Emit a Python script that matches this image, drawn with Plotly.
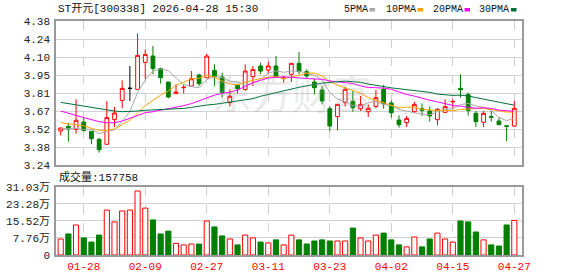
import plotly.graph_objects as go
import pandas as pd

# ---------------- data ----------------
dates = ["01-23","01-26","01-27","01-28","01-29","01-30","02-02","02-03","02-04","02-05",
         "02-06","02-09","02-10","02-11","02-12","02-13","02-24","02-25","02-26","02-27",
         "03-02","03-03","03-04","03-05","03-06","03-09","03-10","03-11","03-12","03-13",
         "03-16","03-17","03-18","03-19","03-20","03-23","03-24","03-25","03-26","03-27",
         "03-30","03-31","04-01","04-02","04-03","04-07","04-08","04-09","04-10","04-13",
         "04-14","04-15","04-16","04-17","04-20","04-21","04-22","04-23","04-24","04-27"]

open_ = [3.510,3.546,3.522,3.580,3.507,3.443,3.404,3.599,3.752,3.847,
         3.839,4.053,4.103,4.003,3.897,3.805,3.852,3.865,3.952,3.931,
         3.989,3.937,3.733,3.871,3.839,3.939,4.024,3.992,4.024,3.924,
         3.958,4.045,3.979,3.897,3.834,3.686,3.623,3.733,3.744,3.686,
         3.662,3.704,3.839,3.731,3.596,3.575,3.662,3.686,3.667,3.599,
         3.657,3.740,3.847,3.799,3.649,3.578,3.623,3.588,3.551,3.549]
high = [3.535,3.575,3.760,3.615,3.507,3.456,3.747,3.699,3.910,4.024,
        4.282,4.156,4.182,4.011,3.897,3.879,3.879,3.984,3.963,4.121,
        4.037,3.971,3.839,3.879,4.037,4.024,4.050,4.058,4.103,3.945,
        4.045,4.135,3.997,3.926,3.865,3.707,3.720,3.860,3.826,3.786,
        3.720,3.834,3.873,3.752,3.633,3.628,3.741,3.728,3.702,3.689,
        3.760,3.760,3.958,3.813,3.667,3.667,3.667,3.615,3.551,3.747]
low = [3.475,3.425,3.488,3.504,3.404,3.338,3.404,3.541,3.689,3.747,
       3.839,3.918,3.958,3.884,3.768,3.805,3.805,3.865,3.865,3.931,
       3.865,3.773,3.702,3.805,3.826,3.865,3.958,3.958,3.937,3.892,
       3.897,3.958,3.923,3.799,3.720,3.509,3.514,3.702,3.662,3.667,
       3.620,3.689,3.686,3.615,3.536,3.541,3.654,3.628,3.583,3.554,
       3.657,3.681,3.773,3.631,3.541,3.541,3.583,3.559,3.430,3.541]
close = [3.533,3.525,3.594,3.514,3.448,3.361,3.615,3.652,3.847,3.847,
         4.108,4.116,4.003,3.931,3.778,3.818,3.855,3.923,3.884,4.103,
         3.937,3.813,3.784,3.844,3.984,3.997,3.984,4.024,3.937,3.929,
         4.045,3.979,3.945,3.852,3.747,3.549,3.720,3.839,3.694,3.720,
         3.689,3.773,3.725,3.654,3.559,3.609,3.720,3.673,3.628,3.681,
         3.702,3.743,3.836,3.673,3.583,3.649,3.618,3.559,3.546,3.689]

# volume in 万 (10k)
volume = [7.3,9.6,13.7,7.8,5.9,9.1,20.5,15.1,20.1,20.5,
          29.2,21.4,16.0,9.6,10.9,5.3,4.6,5.0,5.0,15.5,
          12.8,8.7,7.3,4.6,9.1,7.8,5.9,5.5,6.9,4.6,
          9.1,6.9,5.0,6.4,6.9,6.4,6.4,6.4,12.3,7.8,
          6.4,9.1,10.0,6.9,4.6,3.7,8.2,3.7,7.3,10.0,
          7.3,5.9,15.5,15.1,10.5,6.9,4.6,4.1,13.7,15.7758]

ma5_head = [3.528,3.530,3.530,3.522]
ma10_head = [3.575,3.567,3.559,3.551,3.530,3.514,3.514,3.525,3.560]
ma20_head = [3.667,3.652,3.633,3.615,3.596,3.583,3.575,3.575,3.588,3.609,
             3.633,3.654,3.662,3.673,3.686,3.697,3.710,3.726,3.747]
ma30_head = [3.736,3.726,3.712,3.702,3.691,3.683,3.673,3.667,3.662,3.662,
             3.667,3.673,3.675,3.678,3.681,3.683,3.688,3.696,3.707,3.715,
             3.720,3.728,3.738,3.749,3.752,3.765,3.784,3.799,3.813]

price_tick_labels = ["3.24","3.38","3.52","3.67","3.81","3.95","4.10","4.24","4.38"]
vol_tick_vals = [0, 7.76, 15.52, 23.28, 31.03]
vol_tick_labels = ["0","7.76万","15.52万","23.28万","31.03万"]
x_tick_labels = ["01-28","02-09","02-27","03-11","03-23","04-02","04-15","04-27"]

title_text = "ST开元[300338] 2026-04-28 15:30"
ma_names = ["5PMA","10PMA","20PMA","30PMA"]
ma_colors = ["#a8a8a8","#ffa500","#ff00ff","#00703c"]

# ---------------- geometry helpers ----------------
W, H = 578, 276
L, R, T, B = 56, 522, 21, 255
def px(x): return (x - L) / (R - L)
def py(y): return (B - y) / (B - T)

xi = list(range(len(dates)))
s = pd.Series(close)
def ma(n, head):
    vals = s.rolling(n).mean().tolist()
    vals[:len(head)] = head
    return vals
mas = [ma(5, ma5_head), ma(10, ma10_head), ma(20, ma20_head), ma(30, ma30_head)]

y_lo, y_hi = 3.24, 4.38
n_t = len(price_tick_labels)
price_tick_vals = [y_lo + (y_hi - y_lo) * k / (n_t - 1) for k in range(n_t)]
x_tick_vals = [dates.index(t) for t in x_tick_labels]

RED, GREEN = "#ff0000", "#008000"
FONT = "Liberation Mono, Noto Sans CJK SC, monospace"

fig = go.Figure()

def subset(cond):
    idx = [i for i in xi if cond(i)]
    return (idx, [open_[i] for i in idx], [high[i] for i in idx],
            [low[i] for i in idx], [close[i] for i in idx])

idx, o, h, l, c = subset(lambda i: close[i] != open_[i])
fig.add_trace(go.Candlestick(
    x=idx, open=o, high=h, low=l, close=c, xaxis="x", yaxis="y",
    increasing=dict(line=dict(color=RED, width=1), fillcolor="#ffffff"),
    decreasing=dict(line=dict(color=GREEN, width=1), fillcolor=GREEN),
    whiskerwidth=0, hoverinfo="skip", showlegend=False))
idx, o, h, l, c = subset(lambda i: close[i] == open_[i])
fig.add_trace(go.Candlestick(
    x=idx, open=o, high=h, low=l, close=c, xaxis="x", yaxis="y",
    increasing=dict(line=dict(color="#000000", width=1), fillcolor="#000000"),
    decreasing=dict(line=dict(color="#000000", width=1), fillcolor="#000000"),
    whiskerwidth=0, hoverinfo="skip", showlegend=False))

for vals, col in zip(mas, ma_colors):
    fig.add_trace(go.Scatter(x=xi, y=vals, mode="lines", xaxis="x", yaxis="y",
                             line=dict(color=col, width=1), hoverinfo="skip",
                             showlegend=False))

up = [close[i] >= open_[i] for i in xi]
fig.add_trace(go.Bar(
    x=xi, y=volume, xaxis="x2", yaxis="y2",
    marker=dict(color=["#ffffff" if u else GREEN for u in up],
                line=dict(color=[RED if u else GREEN for u in up], width=1)),
    hoverinfo="skip", showlegend=False))

xr = [-0.61, 60.0]
axis_common = dict(showline=True, mirror=True, linecolor="#9a9a9a", linewidth=1.5,
                   zeroline=False, ticks="", automargin=False)
fig.update_layout(
    width=W, height=H,
    margin=dict(l=L, r=W - R, t=T, b=H - B, autoexpand=False),
    paper_bgcolor="white", plot_bgcolor="white",
    bargap=0.33,
    font=dict(family=FONT, size=10, color="#222222"),
    xaxis=dict(domain=[0, 1], anchor="y", range=xr, tickvals=x_tick_vals,
               showticklabels=False, showgrid=True, gridcolor="#cfcfcf",
               griddash="dash", gridwidth=1, rangeslider=dict(visible=False),
               **axis_common),
    yaxis=dict(domain=[py(165), 1], anchor="x", range=[y_lo, y_hi],
               tickvals=price_tick_vals, ticktext=price_tick_labels,
               showgrid=True, gridcolor="#d2d2d2", gridwidth=1,
               tickfont=dict(family=FONT, size=11, color="#222222"),
               ticklabelstandoff=2, **axis_common),
    xaxis2=dict(domain=[0, 1], anchor="y2", range=xr, tickvals=x_tick_vals,
                ticktext=x_tick_labels, showgrid=True, gridcolor="#cfcfcf",
                griddash="dash", gridwidth=1, ticklabelstandoff=0,
                tickfont=dict(family=FONT, size=11, color=RED),
                **axis_common),
    yaxis2=dict(domain=[0, py(187)], anchor="x2", range=[0, 31.03],
                tickvals=vol_tick_vals, ticktext=vol_tick_labels,
                showgrid=True, gridcolor="#d2d2d2", gridwidth=1,
                tickfont=dict(family=FONT, size=11, color="#222222"),
                ticklabelstandoff=2, **axis_common),
)

ann = []
ann.append(dict(text=title_text, x=px(56), y=py(9), xref="paper", yref="paper",
                xanchor="left", yanchor="middle", showarrow=False,
                font=dict(family=FONT, size=11, color="#111111")))
ann.append(dict(text="成交量:%d" % round(volume[-1] * 10000), x=px(57), y=py(177),
                xref="paper", yref="paper", xanchor="left", yanchor="middle",
                showarrow=False, font=dict(family=FONT, size=11, color="#111111")))
ann.append(dict(text="东方财富", x=px(292), y=py(92), xref="paper", yref="paper",
                xanchor="center", yanchor="middle", showarrow=False,
                font=dict(family="Noto Sans CJK SC", size=40, color="rgba(160,160,160,0.22)")))
leg_x = [342, 384, 431, 477]
sq_x = [369.5, 417.5, 464.5, 511]
shapes = []
for name, col, lx, sx in zip(ma_names, ma_colors, leg_x, sq_x):
    ann.append(dict(text=name, x=px(lx), y=py(9.5), xref="paper", yref="paper",
                    xanchor="left", yanchor="middle", showarrow=False,
                    font=dict(family=FONT, size=10, color="#111111")))
    shapes.append(dict(type="rect", xref="paper", yref="paper",
                       x0=px(sx), x1=px(sx + 5.5), y0=py(11.5), y1=py(8),
                       fillcolor=col, line=dict(width=0)))
fig.update_layout(annotations=ann, shapes=shapes)

fig.write_html("out.html")
